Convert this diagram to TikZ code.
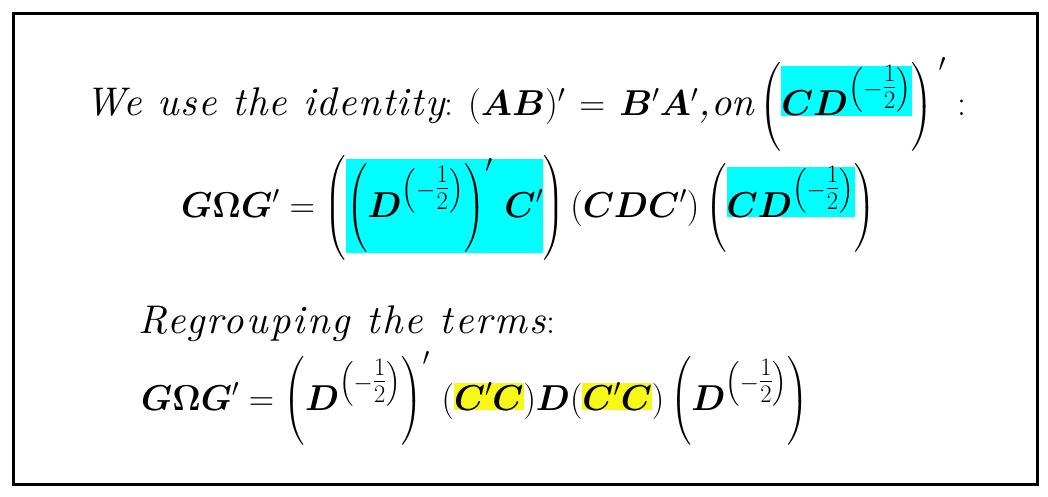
\documentclass[tikz,border=0pt]{standalone}
\usepackage{fix-cm}
\usepackage{amsmath}
\usepackage{bm}
\usepackage{fontspec}
\newfontfamily\itA[LetterSpace=3.5]{lmroman10-italic.otf}
\newfontfamily\itB[LetterSpace=5.5]{lmroman10-italic.otf}
\setlength{\fboxsep}{0pt}
\definecolor{hcyan}{RGB}{0,255,255}
\definecolor{hyellow}{RGB}{248,248,24}
\newcommand{\mhalf}{\left(-\genfrac{}{}{}{1}{1}{2}\right)}
\tikzset{
  eqline/.style={anchor=base west, inner sep=0pt, font=\fontsize{36}{43}\selectfont},
  frame/.style={draw=black, line width=3pt}
}
\begin{document}
\begin{tikzpicture}[x=1pt,y=1pt]
\useasboundingbox (0,0) rectangle (1048,496);
\draw[frame] (13.5,11.5) rectangle (1037.5,482.5);
\node[eqline] (l1) at (85,380) {{\itA\fontsize{40}{44}\selectfont We use the identity}: $(\bm{AB})' \mkern2mu= \mkern2mu\bm{B}'\bm{A}'${\itA\fontsize{40}{44}\selectfont,\kern1pt o\kern-1pt n}\hspace{6pt}$\left(\colorbox{hcyan}{$\bm{CD}^{\mhalf}$}\right)^{\hspace{5pt}\prime}$\hspace{11pt}:};
\node[eqline, transform shape, xscale=0.98] (l2) at (181,279) {$\bm{G}\bm{\Omega}\bm{G}' = \left(\colorbox{hcyan}{$\left(\bm{D}^{\mhalf}\right)'\,\bm{C}'$}\right)(\bm{CDC}')\left(\colorbox{hcyan}{$\bm{CD}^{\mhalf}$}\right)$};
\node[eqline] (l3) at (138,163) {{\itB\fontsize{40}{44}\selectfont Regrouping the terms}:};
\node[eqline, transform shape, xscale=0.975] (l4) at (141,86) {$\bm{G}\bm{\Omega}\bm{G}' = \left(\bm{D}^{\mhalf}\right)'\,(\colorbox{hyellow}{$\bm{C}'\bm{C}$})\bm{D}(\colorbox{hyellow}{$\bm{C}'\bm{C}$})\left(\bm{D}^{\mhalf}\right)$};
\end{tikzpicture}
\end{document}
